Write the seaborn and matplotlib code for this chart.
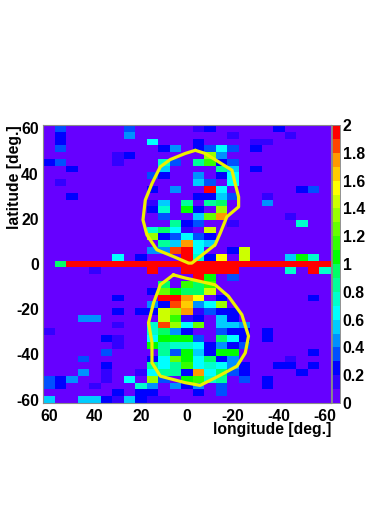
"""
Sky map in longitude / latitude with the two outlined bubbles.
"""

import numpy as np
import pandas as pd
import matplotlib
matplotlib.use("Agg")
import matplotlib.pyplot as plt
from matplotlib.colors import ListedColormap
from matplotlib.ticker import FixedLocator
from matplotlib.transforms import ScaledTranslation
import seaborn as sns

# bin centres
lon_bins = [60 - 5 * i for i in range(25)]
lat_bins = [60 - 3 * i for i in range(41)]

# row index -> {column index: value}, everything else is 0
north_cells = {
    0: {1: .35, 7: .35, 13: .15, 14: .2, 20: .2},
    1: {1: .25, 7: .45, 16: .15, 21: .15},
    2: {1: .25, 9: .65, 13: .2, 18: .15, 19: .15},
    3: {1: .35, 10: .25, 11: .45, 13: .25, 14: .35, 15: .65, 16: .35, 18: .25},
    4: {6: .15, 7: .2, 14: 1.35, 15: .45},
    5: {0: .2, 1: .35, 6: .15, 10: .75, 11: .3, 13: .85, 14: 1.1, 15: .25, 16: .3},
    6: {2: .25, 10: .5, 15: .85, 16: .55, 18: .25},
    7: {9: .3, 10: .2, 13: .4, 15: .2, 16: .65},
    8: {1: .15, 13: .5, 14: .3, 16: .65},
    9: {9: .25, 11: .45, 14: 1.95, 15: .65, 22: .25, 23: .35},
    10: {2: .2, 13: .2, 14: .2, 15: .5, 16: .3, 19: .15},
    11: {9: .15, 10: .5, 12: .85, 14: .85, 15: .9, 19: .45},
    12: {9: .25, 10: .7, 12: 1.05, 13: .2, 15: 1.3},
    13: {10: .3, 13: .5, 14: 1.25, 15: 1.75, 21: .15},
    14: {11: .85, 12: .25, 13: .3, 16: .15, 22: .7},
    15: {9: .7, 10: .95, 11: .65, 12: .15, 14: 1.4},
    16: {9: 1.3, 10: .25, 11: .35, 12: .65, 13: .3, 14: .2},
    17: {10: .85, 11: .5, 12: 1.75, 13: .65, 14: .55},
    18: {9: .4, 10: .45, 11: 1.85, 12: 2, 13: .65, 16: .25, 17: 1.4},
    19: {6: .65, 8: .25, 12: 2, 13: .7, 14: .2, 15: 1.55, 17: 1.4, 21: .5, 22: 1.05, 23: .75},
}
plane_cells = {
    20: {1: .95, 2: 2, 3: 2, 4: 2, 5: 2, 6: 2, 7: 2, 8: 2, 9: 2, 10: 2, 11: 2, 12: 2, 13: 2,
         14: 2, 15: 2, 16: 2, 17: 2, 18: 2, 19: 2, 20: 2, 21: 2, 22: 2, 23: 2, 24: 2},
}
south_cells = {
    21: {4: .15, 9: 2, 12: 2, 13: 2, 14: 2, 15: 2, 16: 2, 21: .75, 23: 2, 24: .75},
    22: {13: 2, 14: 1.0, 16: .35},
    23: {10: .95, 12: 1.15, 13: .9, 14: 1.15},
    24: {9: .2, 10: 1.25, 11: 1.05, 12: .95, 13: .9, 14: 1.4},
    25: {6: .2, 10: 1.9, 11: 1.9, 12: 1.7, 13: 1.55, 15: .2, 23: .2},
    26: {9: .45, 10: .2, 11: 1.85, 12: 1.65, 13: .45, 14: .65, 15: 1.3},
    27: {6: .25, 8: .2, 9: .2, 10: 1.45, 11: 1.3, 12: 1.7, 13: .15, 14: .35, 15: .25, 16: .25},
    28: {3: .4, 4: .4, 10: 1.45, 11: 1.1, 12: .15, 13: .25, 15: .5, 16: .2},
    29: {6: .15, 9: .75, 10: 1.85, 11: 1.3, 12: .6, 13: 1.25, 15: .5, 16: .5, 17: .4},
    30: {0: .15, 9: .75, 10: .9, 11: .4, 12: .2, 15: .35, 16: .2, 17: .25, 19: .25},
    31: {5: .25, 6: .15, 9: .65, 10: 1.0, 11: 1.05, 12: 1.0, 13: .35, 15: .9, 16: .65, 17: .2, 19: .2},
    32: {6: .15, 9: 1.0, 10: .8, 11: .7, 12: .7, 13: .6, 14: .25, 15: .45, 16: .2, 17: .3},
    33: {5: .35, 10: .85, 11: .3, 12: 1.0, 13: .5, 14: .25, 15: 1.05, 16: 1.0, 23: .2},
    34: {3: .3, 9: .2, 10: .65, 11: 1.25, 12: 1.0, 13: .65, 14: .95, 15: .2, 16: .45, 21: .15},
    35: {5: .25, 9: .85, 10: .65, 11: .85, 12: 1.1, 13: .65, 14: .75, 15: .65, 16: .45, 17: .25,
         20: .25, 21: .25, 23: .2},
    36: {3: .45, 5: .15, 8: .15, 9: .65, 10: .8, 11: .8, 12: .2, 13: 1.75, 14: .65, 15: .95,
         16: .35, 17: .2, 22: .2},
    37: {0: .3, 1: .25, 2: .4, 5: .15, 7: .6, 9: 1.3, 10: .3, 12: 1.0, 13: 1.1, 14: .75, 15: .85,
         17: .35, 19: .25},
    38: {0: .3, 1: .2, 4: .15, 8: .75, 9: .45, 11: .45, 12: .25, 13: .45, 15: .35, 19: .25},
    39: {6: .25, 8: .2, 9: .2, 13: .2, 15: .35},
    40: {0: .5, 3: .5, 4: .5, 5: .25, 6: .15, 7: .5, 8: .2, 9: .15, 10: .15},
}

# bubble outlines
north_lon = [-3.6, -7.9, -13.7, -19.5, -20.9, -22.4, -22.4, -17.3, -14.4, -12.2, -5.7, -2.1,
             -0.7, 5.9, 13.1, 17.4, 19.1, 18.1, 15.2, 11.6, 7.3, 0.8, -3.6]
north_lat = [50.3, 48.9, 45.2, 41.5, 35.6, 29.7, 25.3, 20.9, 13.6, 8.5, 3.3, 0.4,
             0.4, 3.3, 6.3, 12.9, 19.5, 28.3, 35.6, 43, 46.2, 48.9, 50.3]
south_lon = [5.9, 0.8, -12.2, -18, -23.8, -26.7, -25.3, -21.7, -13.7, -5.7, 0.8,
             11.6, 15.2, 15.2, 16.7, 14.5, 11.6, 5.9]
south_lat = [-4.8, -6.2, -9.2, -14.3, -22.4, -31.9, -39.3, -45.2, -49.6, -53.7, -52.5,
             -49.6, -43.7, -34.8, -26, -17.2, -9.2, -4.8]

# ROOT style palette, one colour per 0.1
palette_colors = ["#6600ff", "#3300ff", "#0000ff", "#0050ff", "#0090ff",
                  "#00ccff", "#00ffff", "#00ffcc", "#00ff99", "#00ff66",
                  "#00ff00", "#33ff00", "#66ff00", "#99ff00", "#ccff00",
                  "#ffff00", "#ffcc00", "#ff9900", "#ff4400", "#ff0000"]

lon_ticks = [60, 40, 20, 0, -20, -40, -60]
lat_ticks = [60, 40, 20, 0, -20, -40, -60]
z_ticks = [0, 0.2, 0.4, 0.6, 0.8, 1, 1.2, 1.4, 1.6, 1.8, 2]
z_labels = ["0", "0.2", "0.4", "0.6", "0.8", "1", "1.2", "1.4", "1.6", "1.8", "2"]

W, H = 374, 529


def lon_to_x(lon):
    return (62.5 - np.asarray(lon, dtype=float)) / 5


def lat_to_y(lat):
    return (61.5 - np.asarray(lat, dtype=float)) / 3


def main():
    sns.set_theme(style="white")
    plt.rcParams['font.family'] = ['Liberation Sans', 'DejaVu Sans']
    plt.rcParams['font.weight'] = 'bold'
    plt.rcParams['text.color'] = 'black'
    plt.rcParams['axes.labelcolor'] = 'black'
    plt.rcParams['xtick.labelcolor'] = 'black'
    plt.rcParams['ytick.labelcolor'] = 'black'

    grid = np.zeros((len(lat_bins), len(lon_bins)))
    for cells in [north_cells, plane_cells, south_cells]:
        for row, vals in cells.items():
            for col, v in vals.items():
                grid[row, col] = v
    df = pd.DataFrame(grid, index=lat_bins, columns=lon_bins)

    fig = plt.figure(figsize=[W / 100, H / 100], dpi=100)
    ax = fig.add_axes([43 / W, 1 - 403 / H, 288 / W, 278 / H])
    cax = fig.add_axes([332 / W, 1 - 403 / H, 8 / W, 278 / H])

    sns.heatmap(df, ax=ax, cbar_ax=cax, cmap=ListedColormap(palette_colors),
                vmin=0, vmax=2, square=False, linewidths=0,
                cbar_kws={'ticks': z_ticks, 'drawedges': False})

    # bubbles
    for lon, lat in [(north_lon, north_lat), (south_lon, south_lat)]:
        ax.plot(lon_to_x(lon), lat_to_y(lat), color='#eef000', linewidth=2.3,
                solid_joinstyle='round')

    # axes
    ax.set_xticks(lon_to_x(lon_ticks))
    ax.set_xticklabels([str(t) for t in lon_ticks], rotation=0)
    ax.set_yticks(lat_to_y(lat_ticks))
    ax.set_yticklabels([str(t) for t in lat_ticks], rotation=0, va='center')
    ax.xaxis.set_minor_locator(FixedLocator(lon_to_x(np.arange(60, -61, -5))))
    ax.yaxis.set_minor_locator(FixedLocator(lat_to_y(np.arange(60, -61, -5))))
    ax.tick_params(axis='both', which='major', direction='in', length=6.5, width=0.6,
                   color='#222222', labelsize=11.3, bottom=True, left=True)
    ax.tick_params(axis='x', which='major', pad=4.5)
    ax.tick_params(axis='y', which='major', pad=3)
    ax.tick_params(axis='both', which='minor', direction='in', length=3.2, width=0.5,
                   color='#222222', bottom=True, left=True)
    # labels sit a bit under their ticks
    nudge = ScaledTranslation(0, -1.5 / 100, fig.dpi_scale_trans)
    for label in ax.get_yticklabels():
        label.set_transform(label.get_transform() + nudge)
    ax.set_xlabel("longitude [deg.]", loc='right', fontsize=11.3, fontweight='bold')
    ax.set_ylabel("latitude [deg.]", loc='top', fontsize=11.3, fontweight='bold')
    ax.xaxis.set_label_coords(1.0, -0.07)
    ax.yaxis.set_label_coords(-0.072, 1.0)
    for side, spine in ax.spines.items():
        spine.set_visible(True)
        spine.set_color('#8a8a8a')
        spine.set_linewidth(0.8)

    # palette
    cax.set_yticklabels(z_labels)
    cax.tick_params(axis='y', length=0, labelsize=11.3, pad=2, labelcolor='black')
    for spine in cax.spines.values():
        spine.set_visible(True)
        spine.set_color('#8a8a8a')
        spine.set_linewidth(0.5)

    fig.savefig("out.png", dpi=100)


if __name__ == "__main__":
    main()
